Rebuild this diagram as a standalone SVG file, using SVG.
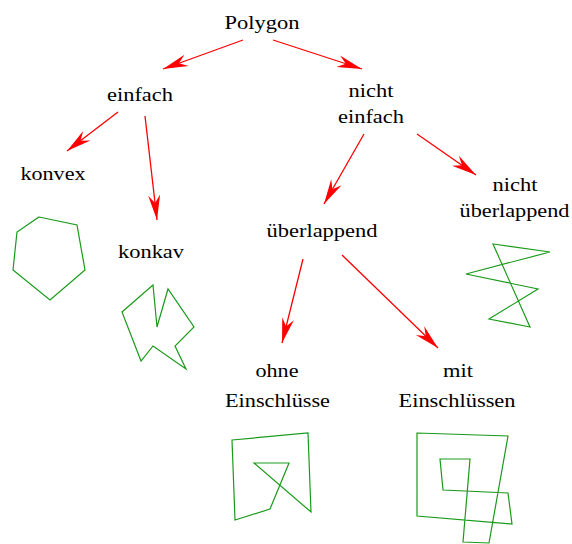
<svg xmlns="http://www.w3.org/2000/svg" width="572" height="544" viewBox="0 0 572 544">
<style>
text{font-family:'Liberation Serif','Tinos','Nimbus Roman','Nimbus Roman No9 L','TeX Gyre Termes','FreeSerif','Noto Serif','DejaVu Serif',serif;font-size:19px;fill:#000;text-anchor:middle}
.c line{stroke:#ff0000;stroke-width:1.3;marker-end:url(#ah)}
.p{fill:none;stroke:#1a9a1a;stroke-width:1.2}
</style>
<defs>
<marker id="ah" markerUnits="userSpaceOnUse" viewBox="-26 -7 28 14" refX="0" refY="0" markerWidth="28" markerHeight="14" orient="auto">
<path d="M0,0 L-25,-6 L-17,0 L-25,6 Z" fill="#ff0000"/>
</marker>
</defs>
<g id="n-polygon"><text x="262" y="29" textLength="75" lengthAdjust="spacingAndGlyphs">Polygon</text></g>
<g id="n-einfach"><text x="140" y="101" textLength="66" lengthAdjust="spacingAndGlyphs">einfach</text></g>
<g id="n-nichteinfach"><text x="371" y="97" textLength="45" lengthAdjust="spacingAndGlyphs">nicht</text><text x="371" y="123" textLength="66" lengthAdjust="spacingAndGlyphs">einfach</text></g>
<g id="n-konvex"><text x="53" y="180" textLength="65" lengthAdjust="spacingAndGlyphs">konvex</text><polygon class="p" points="39,217 77,225 85,270 50,300 13,270 17,232"/></g>
<g id="n-konkav"><text x="151" y="258" textLength="66" lengthAdjust="spacingAndGlyphs">konkav</text><polygon class="p" points="153,285 157,327 168,289 194,327 175,346 186,369 153,346 141,361 122,312"/></g>
<g id="n-ueberlappend"><text x="322" y="237" textLength="111" lengthAdjust="spacingAndGlyphs">überlappend</text></g>
<g id="n-nichtueberlappend"><text x="515" y="191" textLength="45" lengthAdjust="spacingAndGlyphs">nicht</text><text x="514.5" y="217" textLength="110" lengthAdjust="spacingAndGlyphs">überlappend</text><polygon class="p" points="493,244 550,252 466,274 538,289 489,319 530,327"/></g>
<g id="n-ohne"><text x="277" y="377" textLength="43" lengthAdjust="spacingAndGlyphs">ohne</text><text x="277.5" y="407" textLength="105" lengthAdjust="spacingAndGlyphs">Einschlüsse</text><polygon class="p" points="232,440 308,433 311,512 254,463 289,463 270,509 235,520"/></g>
<g id="n-mit"><text x="458" y="377" textLength="30" lengthAdjust="spacingAndGlyphs">mit</text><text x="457" y="407" textLength="117" lengthAdjust="spacingAndGlyphs">Einschlüssen</text><polygon class="p" points="417,433 508,436 489,543 463,542 470,459 440,459 443,490 508,493 512,524 417,516"/></g>
<g id="connectors" class="c">
<line x1="243" y1="40" x2="163" y2="69"/>
<line x1="273" y1="40" x2="362" y2="69"/>
<line x1="118" y1="112" x2="67" y2="151"/>
<line x1="145" y1="116" x2="157" y2="220"/>
<line x1="364" y1="134" x2="324" y2="204"/>
<line x1="417" y1="134" x2="476" y2="175"/>
<line x1="303" y1="259" x2="282" y2="343"/>
<line x1="342" y1="255" x2="438" y2="348"/>
</g>
</svg>
